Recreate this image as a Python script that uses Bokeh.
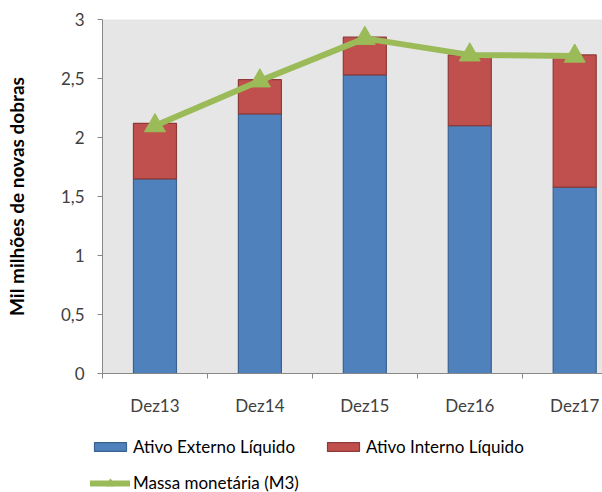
from bokeh.plotting import figure
from bokeh.layouts import column
from bokeh.models import Range1d, FixedTicker, Legend, LegendItem, CustomJSTickFormatter, ColumnDataSource
from bokeh.embed import file_html
from bokeh.resources import INLINE
import numpy as np

categories = ["Dez13", "Dez14", "Dez15", "Dez16", "Dez17"]
ativo_externo = [1.65, 2.20, 2.53, 2.10, 1.58]
ativo_interno = [0.47, 0.29, 0.32, 0.60, 1.12]
massa_m3 = [2.10, 2.48, 2.84, 2.70, 2.69]
y_ticks = [0, 0.5, 1, 1.5, 2, 2.5, 3]
labels = ["Ativo Externo Líquido", "Ativo Interno Líquido", "Massa monetária (M3)"]

FONT = "Lato"
BLUE, BLUE_L = "#4F81BD", "#3A6290"
RED, RED_L = "#C0504D", "#8E3A38"
GREEN = "#9BBB59"
AXIS = "#888888"

x = np.arange(len(categories))
ext = np.array(ativo_externo)
tot = ext + np.array(ativo_interno)
src = ColumnDataSource(dict(x=x, ext=ext, tot=tot, m3=massa_m3))

p = figure(width=602, height=418, output_backend="svg", toolbar_location=None,
           x_range=Range1d(-0.5, 4.265), y_range=Range1d(0, 3),
           min_border_left=102, min_border_right=0, min_border_top=19, min_border_bottom=44)
p.frame_align = False
p.background_fill_color = "#E6E6E6"
p.border_fill_color = "white"
p.outline_line_color = None
p.xgrid.visible = False
p.ygrid.visible = False

bar_style_ext = dict(fill_color=BLUE, line_color=BLUE_L, line_width=1.2)
bar_style_int = dict(fill_color=RED, line_color=RED_L, line_width=1.2)
line_style = dict(line_color=GREEN, line_width=6, line_cap="round", line_join="round")
mark_style = dict(marker="triangle", size=21, fill_color=GREEN, line_color=GREEN)

def draw(fig):
    r1 = fig.vbar(x="x", width=0.41, bottom=0, top="ext", source=src, **bar_style_ext)
    r2 = fig.vbar(x="x", width=0.41, bottom="ext", top="tot", source=src, **bar_style_int)
    r3 = fig.line(x="x", y="m3", source=src, **line_style)
    r4 = fig.scatter(x="x", y="m3", source=src, **mark_style)
    return r1, r2, r3, r4

draw(p)

# y axis
ya = p.yaxis[0]
ya.ticker = FixedTicker(ticks=y_ticks, minor_ticks=[])
ya.formatter = CustomJSTickFormatter(code="return tick.toString().replace('.', ',');")
ya.axis_line_color = AXIS
ya.major_tick_line_color = AXIS
ya.major_tick_out = 5
ya.major_tick_in = 0
ya.major_label_standoff = 13
ya.major_label_text_font = FONT
ya.major_label_text_font_size = "17px"
ya.major_label_text_color = "#404040"
ya.axis_label = "Mil milhões de novas dobras"
ya.axis_label_text_font = FONT
ya.axis_label_text_font_size = "19px"
ya.axis_label_text_font_style = "bold"
ya.axis_label_text_color = "black"
ya.axis_label_standoff = 30

# x axis
xa = p.xaxis[0]
xa.ticker = FixedTicker(ticks=list(range(len(categories))),
                        minor_ticks=[i - 0.5 for i in range(len(categories) + 1)])
xa.major_label_overrides = {i: c for i, c in enumerate(categories)}
xa.axis_line_color = AXIS
xa.major_tick_line_color = None
xa.major_tick_out = 0
xa.major_tick_in = 0
xa.minor_tick_line_color = AXIS
xa.minor_tick_out = 5
xa.minor_tick_in = 0
xa.major_label_standoff = 16
xa.major_label_text_font = FONT
xa.major_label_text_font_size = "17px"
xa.major_label_text_color = "#404040"

# legend strip (separate figure; its ranges keep the marks out of view)
p2 = figure(width=602, height=74, output_backend="svg", toolbar_location=None,
            x_range=Range1d(100, 101), y_range=Range1d(100, 101),
            x_axis_location=None, y_axis_location=None,
            min_border_left=0, min_border_right=0, min_border_top=0, min_border_bottom=0)
p2.frame_align = False
p2.outline_line_color = None
p2.xgrid.visible = False
p2.ygrid.visible = False
d_ext, d_int, d_line, d_mark = draw(p2)

def style(lg, gh):
    lg.border_line_color = None
    lg.background_fill_alpha = 0
    lg.padding = 0
    lg.margin = 0
    lg.spacing = 28
    lg.glyph_width = 40
    lg.glyph_height = gh
    lg.label_standoff = 3
    lg.label_text_font = FONT
    lg.label_text_font_size = "17px"
    lg.label_text_color = "black"
    return lg

leg1 = style(Legend(items=[LegendItem(label=labels[0], renderers=[d_ext]),
                           LegendItem(label=labels[1], renderers=[d_int])],
                    location=(90, 35), orientation="horizontal"), 11)
leg2 = style(Legend(items=[LegendItem(label=labels[2], renderers=[d_line, d_mark])],
                    location=(90, -1), orientation="horizontal"), 20)
p2.add_layout(leg1, "center")
p2.add_layout(leg2, "center")

layout = column(p, p2, spacing=0)
open("out.html", "w").write(file_html(layout, INLINE))
